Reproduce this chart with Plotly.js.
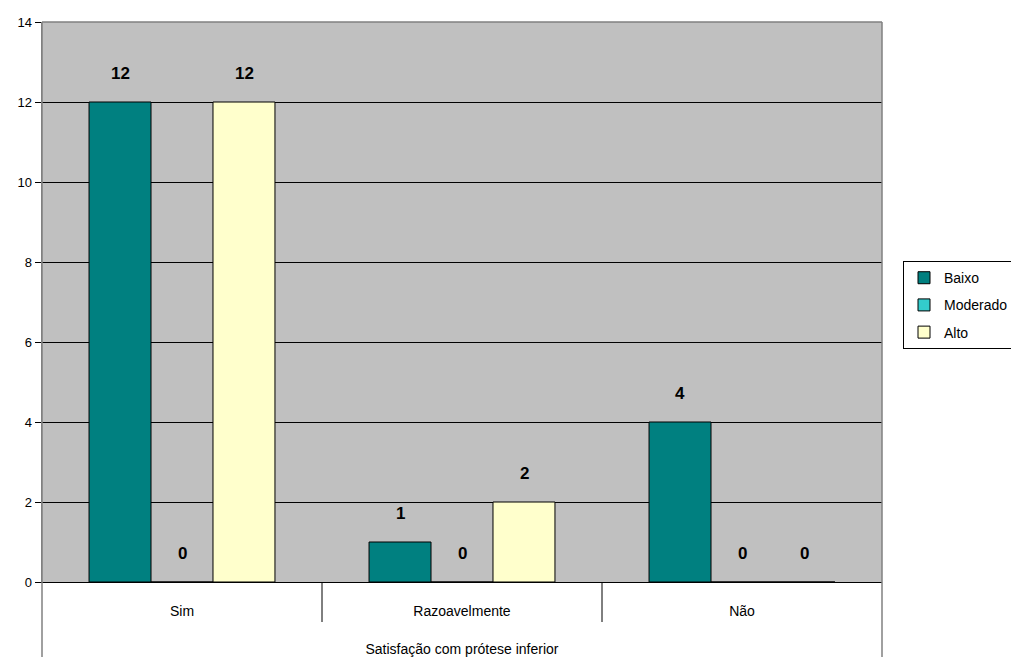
<!DOCTYPE html>
<html><head><meta charset="utf-8">
<script src="https://cdn.plot.ly/plotly-3.0.1.min.js"></script>
<style>html,body{margin:0;padding:0;background:#fff;}#chart{width:1011px;height:657px;}</style>
</head><body><div id="chart"></div>
<script>
const categories = ["Sim", "Razoavelmente", "Não"];
const seriesNames = ["Baixo", "Moderado", "Alto"];
const baixo = [12, 1, 4];
const moderado = [0, 0, 0];
const alto = [12, 2, 0];
const yTicks = [0, 2, 4, 6, 8, 10, 12, 14];
const xTitle = "Satisfação com prótese inferior";

const seriesValues = [baixo, moderado, alto];
const colors = ["#008080", "#33CCCC", "#FFFFCC"];
const FONT = "Liberation Sans, Arial, sans-serif";

const traces = seriesValues.map((vals, i) => ({
  type: "bar", name: seriesNames[i], x: categories, y: vals,
  legendgroup: "g" + i,
  marker: {color: colors[i], line: {color: "#000", width: 1}},
  hoverinfo: "none"
}));

// data labels via annotations, offset per series within its group
const annotations = [];
seriesValues.forEach((vals, i) => {
  vals.forEach((v, j) => {
    annotations.push({
      x: j, xref: "x", y: v, yref: "y", text: "<b>" + v + "</b>",
      showarrow: false, yanchor: "bottom", yshift: 17,
      xshift: (i - 1) * 62, font: {family: FONT, size: 17, color: "#000"}
    });
  });
});

const shapes = [];
[0.5, 1.5].forEach(b => shapes.push({
  type: "line", xref: "x", yref: "paper", x0: b, x1: b, y0: 0, y1: -40/560,
  line: {color: "#000", width: 1}
}));
shapes.push({type: "line", xref: "paper", yref: "paper", x0: 0, x1: 0, y0: 1, y1: -80/560, line: {color: "#808080", width: 1.5}});
shapes.push({type: "line", xref: "paper", yref: "paper", x0: 1, x1: 1, y0: 1, y1: -80/560, line: {color: "#808080", width: 1.5}});
shapes.push({type: "line", xref: "paper", yref: "paper", x0: 0, x1: 1, y0: 1, y1: 1, line: {color: "#808080", width: 1.5}});

const layout = {
  width: 1011, height: 657,
  margin: {l: 42, r: 129, t: 22, b: 75, autoexpand: false},
  paper_bgcolor: "#fff", plot_bgcolor: "#C0C0C0",
  font: {family: FONT, size: 12, color: "#000"},
  barmode: "group", bargap: 0.336, bargroupgap: 0,
  showlegend: true,
  legend: {
    x: 1.025, xanchor: "left", y: 0.573, yanchor: "top",
    bgcolor: "#fff", bordercolor: "#000", borderwidth: 1,
    font: {family: FONT, size: 14, color: "#000"},
    tracegroupgap: 6, traceorder: "grouped",
    itemwidth: 30
  },
  xaxis: {
    type: "category", categoryarray: categories, range: [-0.5, 2.5],
    showgrid: false, zeroline: false, ticks: "", showline: true,
    linecolor: "#000", linewidth: 1,
    tickfont: {family: FONT, size: 14, color: "#000"},
    ticklabelstandoff: 16,
    title: {text: xTitle, font: {family: FONT, size: 14, color: "#000"}, standoff: 27},
    automargin: false
  },
  yaxis: {
    range: [0, 14], tickvals: yTicks, ticktext: yTicks.map(String),
    showgrid: true, gridcolor: "#000", gridwidth: 1,
    zeroline: false, ticks: "outside", ticklen: 6, tickcolor: "#000",
    showline: true, linecolor: "#808080", linewidth: 1.5,
    tickfont: {family: FONT, size: 13, color: "#000"},
    automargin: false
  },
  annotations: annotations,
  shapes: shapes
};

Plotly.newPlot("chart", traces, layout, {displayModeBar: false, staticPlot: true});
</script></body></html>
